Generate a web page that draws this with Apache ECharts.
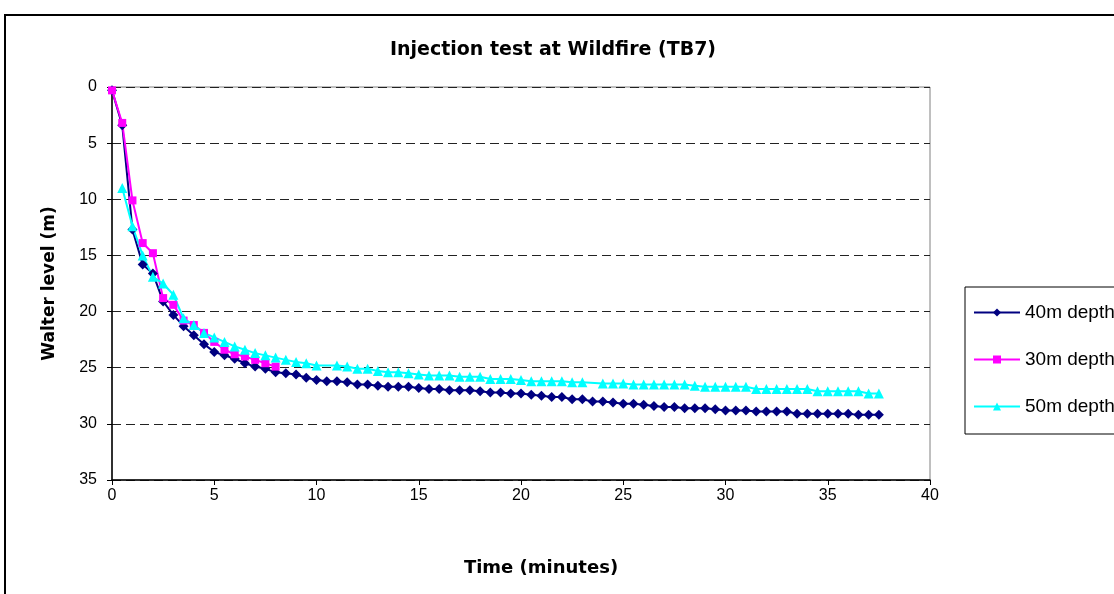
<!DOCTYPE html>
<html>
<head>
<meta charset="utf-8">
<script src="https://cdn.jsdelivr.net/npm/echarts@6/dist/echarts.min.js"></script>
<style>
  html, body { margin: 0; padding: 0; background: #fff; }
  #chart { width: 1114px; height: 594px; }
</style>
</head>
<body>
<div id="chart"></div>
<script>
// Injection test at Wildfire (TB7): water level below reference vs. elapsed time
const titleText = 'Injection test at Wildfire (TB7)';
const xAxisTitle = 'Time (minutes)';
const yAxisTitle = 'Walter level (m)';
const seriesNames = ['40m depth', '30m depth', '50m depth'];

const time40 = [0, 0.5, 1, 1.5, 2, 2.5, 3, 3.5, 4, 4.5, 5, 5.5, 6, 6.5, 7, 7.5, 8, 8.5, 9, 9.5,
  10, 10.5, 11, 11.5, 12, 12.5, 13, 13.5, 14, 14.5, 15, 15.5, 16, 16.5, 17, 17.5, 18, 18.5, 19, 19.5,
  20, 20.5, 21, 21.5, 22, 22.5, 23, 23.5, 24, 24.5, 25, 25.5, 26, 26.5, 27, 27.5, 28, 28.5, 29, 29.5,
  30, 30.5, 31, 31.5, 32, 32.5, 33, 33.5, 34, 34.5, 35, 35.5, 36, 36.5, 37, 37.5];
const level40 = [0.3, 3.4, 12.7, 15.8, 16.6, 19.1, 20.3, 21.3, 22.1, 22.9, 23.6, 23.9, 24.2, 24.6, 24.9, 25.1, 25.4, 25.5, 25.6, 25.9,
  26.1, 26.2, 26.2, 26.3, 26.5, 26.5, 26.6, 26.7, 26.7, 26.7, 26.8, 26.9, 26.9, 27.0, 27.0, 27.0, 27.1, 27.2, 27.2, 27.3,
  27.3, 27.4, 27.5, 27.6, 27.6, 27.8, 27.8, 28.0, 28.0, 28.1, 28.2, 28.2, 28.3, 28.4, 28.5, 28.5, 28.6, 28.6, 28.6, 28.7,
  28.8, 28.8, 28.8, 28.9, 28.9, 28.9, 28.9, 29.1, 29.1, 29.1, 29.1, 29.1, 29.1, 29.2, 29.2, 29.2];

const time30 = [0, 0.5, 1, 1.5, 2, 2.5, 3, 3.5, 4, 4.5, 5, 5.5, 6, 6.5, 7, 7.5, 8];
const level30 = [0.3, 3.2, 10.1, 13.9, 14.8, 18.8, 19.4, 20.8, 21.2, 21.9, 22.7, 23.4, 23.8, 24.0, 24.3, 24.6, 24.9];

const time50 = [0.5, 1, 1.5, 2, 2.5, 3, 3.5, 4, 4.5, 5, 5.5, 6, 6.5, 7, 7.5, 8, 8.5, 9, 9.5,
  10, 11, 11.5, 12, 12.5, 13, 13.5, 14, 14.5, 15, 15.5, 16, 16.5, 17, 17.5, 18, 18.5, 19, 19.5,
  20, 20.5, 21, 21.5, 22, 22.5, 23, 24, 24.5, 25, 25.5, 26, 26.5, 27, 27.5, 28, 28.5, 29, 29.5,
  30, 30.5, 31, 31.5, 32, 32.5, 33, 33.5, 34, 34.5, 35, 35.5, 36, 36.5, 37, 37.5];
const level50 = [9.0, 12.4, 15.0, 16.9, 17.5, 18.5, 20.6, 21.2, 21.9, 22.3, 22.7, 23.1, 23.4, 23.7, 23.9, 24.1, 24.3, 24.5, 24.6,
  24.8, 24.8, 24.9, 25.1, 25.1, 25.3, 25.4, 25.4, 25.5, 25.6, 25.7, 25.7, 25.7, 25.8, 25.8, 25.8, 26.0, 26.0, 26.0,
  26.1, 26.2, 26.2, 26.2, 26.2, 26.3, 26.3, 26.4, 26.4, 26.4, 26.5, 26.5, 26.5, 26.5, 26.5, 26.5, 26.6, 26.7, 26.7,
  26.7, 26.7, 26.7, 26.9, 26.9, 26.9, 26.9, 26.9, 26.9, 27.1, 27.1, 27.1, 27.1, 27.1, 27.3, 27.3];

const pairs = (xs, ys) => xs.map((x, i) => [x, ys[i]]);

const chart = echarts.init(document.getElementById('chart'), null, { renderer: 'canvas' });

const lineSeries = (name, data, color, symbol, size) => ({
  name,
  type: 'line',
  data,
  symbol,
  symbolSize: size,
  showAllSymbol: true,
  lineStyle: { color, width: 2 },
  itemStyle: { color, borderWidth: 0 },
  emphasis: { disabled: true },
  animation: false
});

chart.setOption({
  backgroundColor: '#ffffff',
  animation: false,
  title: {
    text: titleText,
    left: 548,
    textAlign: 'center',
    top: 36,
    textStyle: { fontFamily: 'DejaVu Sans', fontWeight: 'bold', fontSize: 19, color: '#000' }
  },
  graphic: [{
    type: 'rect',
    shape: { x: 5, y: 15, width: 1200, height: 700 },
    style: { fill: null, stroke: '#000', lineWidth: 2 },
    silent: true
  }],
  grid: {
    left: 112, top: 87, right: 184, bottom: 114,
    show: true, borderColor: '#808080', borderWidth: 1, backgroundColor: 'transparent'
  },
  legend: {
    orient: 'vertical',
    left: 965, top: 287,
    padding: [16, 30, 18, 8],
    itemGap: 28,
    itemWidth: 46, itemHeight: 10,
    borderColor: '#000', borderWidth: 1,
    textStyle: { fontFamily: 'Liberation Sans', fontSize: 19, color: '#000' },
    data: seriesNames
  },
  xAxis: {
    type: 'value',
    min: 0, max: 40, interval: 5,
    name: xAxisTitle,
    nameLocation: 'middle',
    nameGap: 79,
    nameTextStyle: { fontFamily: 'DejaVu Sans', fontWeight: 'bold', fontSize: 18, color: '#000', padding: [0, 0, 0, 40] },
    axisLine: { show: true, onZero: false, lineStyle: { color: '#000', width: 1.5 } },
    axisTick: { show: true, inside: false, length: 5, lineStyle: { color: '#000' } },
    axisLabel: { fontFamily: 'Liberation Sans', fontSize: 16, color: '#000', margin: 8 },
    splitLine: { show: false }
  },
  yAxis: {
    type: 'value',
    inverse: true,
    min: 0, max: 35, interval: 5,
    name: yAxisTitle,
    nameLocation: 'middle',
    nameGap: 54,
    nameRotate: 90,
    nameTextStyle: { fontFamily: 'DejaVu Sans', fontWeight: 'bold', fontSize: 17, color: '#000' },
    axisLine: { show: true, onZero: false, lineStyle: { color: '#000', width: 1.5 } },
    axisTick: { show: true, inside: false, length: 5, lineStyle: { color: '#000' } },
    axisLabel: { fontFamily: 'Liberation Sans', fontSize: 16, color: '#000', margin: 15 },
    splitLine: { show: true, lineStyle: { color: '#222', width: 1, type: [9, 5] } }
  },
  series: [
    lineSeries(seriesNames[0], pairs(time40, level40), '#000080', 'diamond', 10),
    lineSeries(seriesNames[1], pairs(time30, level30), '#FF00FF', 'rect', 8),
    lineSeries(seriesNames[2], pairs(time50, level50), '#00FFFF', 'triangle', 10)
  ]
});
</script>
</body>
</html>
